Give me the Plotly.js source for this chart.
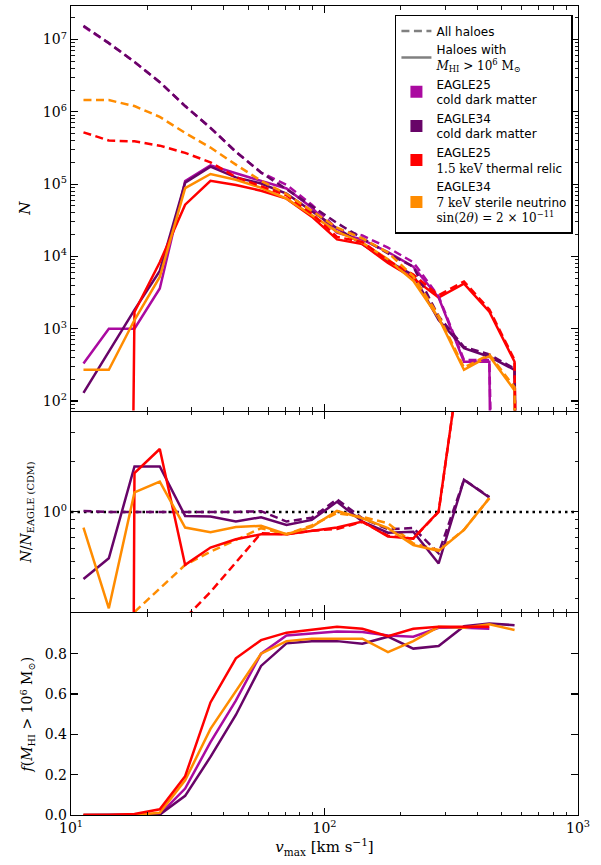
<!DOCTYPE html>
<html><head><meta charset="utf-8">
<script src="https://cdn.plot.ly/plotly-3.0.1.min.js"></script>
<style>html,body{margin:0;padding:0;background:#fff}</style>
</head><body><div id="chart" style="width:601px;height:865px"></div>
<script>
// bin centres of v_max [km/s]
const vmax = [11.2, 14.1, 17.8, 22.4, 28.2, 35.5, 44.7, 56.2, 70.8, 89.1, 112, 141, 178, 224, 282, 355, 447, 562, 708];

// Top panel: number of haloes, all haloes (dashed)
const allCDM25 = [1.51e7, 8.9e6, 4.9e6, 2.57e6, 1.2e6, 6.0e5, 2.8e5, 1.44e5, 9.8e4, 5.2e4, 2.4e4, 1.95e4, 1.32e4, 8.3e3, 2.8e3, 370, 370, 0, 0];
const allCDM34 = [1.55e7, 8.9e6, 4.9e6, 2.57e6, 1.2e6, 6.0e5, 2.8e5, 1.45e5, 8.5e4, 4.9e4, 2.9e4, 1.78e4, 1.1e4, 7.2e3, 1.48e3, 560, 440, 280, 0];
const allTR25  = [5.2e5, 4.0e5, 3.9e5, 3.4e5, 2.7e5, 2.0e5, 1.25e5, 9.3e4, 7.0e4, 3.9e4, 1.86e4, 1.58e4, 8.8e3, 5.6e3, 2.9e3, 4.5e3, 1.84e3, 370, 0];
const allSN34  = [1.46e6, 1.45e6, 1.2e6, 8.5e5, 5.1e5, 3.2e5, 1.86e5, 1.11e5, 7.3e4, 4.25e4, 2.5e4, 1.77e4, 1.13e4, 5.3e3, 1.51e3, 290, 440, 155, 0];
// haloes with M_HI > 1e6 Msun (solid)
const hiCDM25 = [330, 1000, 1000, 3600, 1.1e5, 1.82e5, 1.41e5, 1.1e5, 8.7e4, 4.7e4, 2.14e4, 1.7e4, 1.15e4, 7.2e3, 2.7e3, 350, 350, 0, 0];
const hiCDM34 = [130, 480, 1820, 6300, 1.05e5, 1.74e5, 1.24e5, 1.02e5, 7.4e4, 4.2e4, 2.45e4, 1.48e4, 8.6e3, 5.5e3, 1.32e3, 540, 410, 270, 0];
const hiTR25  = [0, 0, 1700, 8300, 5.2e4, 1.11e5, 9.7e4, 8.1e4, 6.3e4, 3.55e4, 1.72e4, 1.48e4, 8.1e3, 5.0e3, 2.7e3, 4.2e3, 1.72e3, 350, 0];
const hiSN34  = [270, 270, 1320, 5200, 8.8e4, 1.38e5, 1.15e5, 8.9e4, 6.3e4, 3.7e4, 2.2e4, 1.55e4, 9.1e3, 4.6e3, 1.41e3, 270, 420, 140, 0];

// Middle panel: ratio to EAGLE25 CDM (null where undefined)
const ratioAllCDM34 = [1.014, 1.0, 1.0, 1.0, 0.995, 1.0, 1.0, 1.01, 0.875, 0.923, 1.19, 0.916, 0.787, 0.80, 0.564, 1.56, 1.23, null, null];
const ratioAllTR25  = [0.034, 0.045, 0.083, 0.137, 0.23, 0.33, 0.5, 0.745, 0.734, 0.77, 0.79, 0.87, 0.72, 0.69, 1.0, 12.0, 4.95, null, null];
const ratioAllSN34  = [0.094, 0.163, 0.25, 0.345, 0.48, 0.576, 0.678, 0.798, 0.734, 0.83, 0.982, 0.933, 0.855, 0.646, 0.59, 0.78, 1.21, null, null];
const ratioHiCDM34  = [0.395, 0.526, 1.875, 1.875, 0.946, 0.937, 0.875, 0.929, 0.835, 0.895, 1.15, 0.875, 0.75, 0.76, 0.49, 1.56, 1.22, null, null];
const ratioHiTR25   = [0, 0, 1.71, 2.39, 0.48, 0.61, 0.684, 0.734, 0.734, 0.769, 0.805, 0.875, 0.71, 0.693, 1.005, 12.0, 4.95, null, null];
const ratioHiSN34   = [0.805, 0.263, 1.31, 1.52, 0.805, 0.755, 0.811, 0.824, 0.734, 0.813, 1.014, 0.916, 0.798, 0.632, 0.582, 0.78, 1.21, null, null];

// Bottom panel: HI fraction
const fCDM25 = [0, 0, 0, 0.003, 0.131, 0.361, 0.567, 0.8, 0.89, 0.9, 0.91, 0.907, 0.89, 0.884, 0.928, 0.928, 0.923, null, null];
const fCDM34 = [0, 0, 0, 0.002, 0.095, 0.288, 0.496, 0.739, 0.851, 0.862, 0.862, 0.849, 0.884, 0.825, 0.838, 0.936, 0.95, 0.941, null];
const fTR25  = [0, 0, 0.005, 0.028, 0.192, 0.558, 0.777, 0.867, 0.904, 0.917, 0.933, 0.923, 0.887, 0.923, 0.933, 0.933, 0.933, null, null];
const fSN34  = [0, 0, 0, 0.011, 0.172, 0.427, 0.616, 0.8, 0.862, 0.874, 0.874, 0.874, 0.808, 0.862, 0.933, 0.928, 0.945, 0.917, null];

const modelNames = ['EAGLE25<br>cold dark matter', 'EAGLE34<br>cold dark matter',
  'EAGLE25<br><span style="font-family:DejaVu Serif">1.5 keV</span> thermal relic',
  'EAGLE34<br><span style="font-family:DejaVu Serif">7 keV</span> sterile neutrino<br><span style="font-family:DejaVu Serif">sin(2<i>θ</i>) = 2 × 10<sup>−11</sup></span>'];
const colors = ['#aa0aa0', '#680468', '#ff0000', '#ff8c00'];

const SER = 'DejaVu Serif';
const SANS = 'DejaVu Sans';
const DASH = '8px,4.5px';
const LW = 2.5;
// zero counts on a log axis are clipped far below the panel (like matplotlib)
const clip = arr => arr.map(v => (v === null ? null : (v > 0 ? v : 1e-30)));

function ln(y, color, dash, xa, ya) {
  return {type: 'scatter', mode: 'lines', x: vmax, y: y, xaxis: xa, yaxis: ya,
    showlegend: false, hoverinfo: 'skip', line: {color: color, width: LW, dash: dash}};
}

const traces = [];
// top panel
const allSets = [allCDM25, allCDM34, allTR25, allSN34];
const hiSets = [hiCDM25, hiCDM34, hiTR25, hiSN34];
[0,1,2,3].forEach(i => traces.push(ln(clip(hiSets[i]), colors[i], 'solid', 'x', 'y')));
[0,1,2,3].forEach(i => traces.push(ln(clip(allSets[i]), colors[i], DASH, 'x', 'y')));
// middle panel
const rAll = [null, ratioAllCDM34, ratioAllTR25, ratioAllSN34];
const rHi = [null, ratioHiCDM34, ratioHiTR25, ratioHiSN34];
[1,2,3].forEach(i => traces.push(ln(clip(rAll[i]), colors[i], DASH, 'x2', 'y2')));
[1,2,3].forEach(i => traces.push(ln(clip(rHi[i]), colors[i], 'solid', 'x2', 'y2')));
// bottom panel
const fSets = [fCDM25, fCDM34, fSN34, fTR25];
const fCols = [colors[0], colors[1], colors[3], colors[2]];
fSets.forEach((f, i) => traces.push(ln(f, fCols[i], 'solid', 'x3', 'y3')));

// legend-only entries (a single undefined point so nothing is drawn)
const noPt = {x: [vmax[0]], y: [null], xaxis: 'x', yaxis: 'y', hoverinfo: 'skip', showlegend: true};
traces.push(Object.assign({type: 'scatter', mode: 'lines', name: 'All haloes',
  line: {color: '#808080', width: 2.5, dash: DASH}, legendrank: 1}, noPt));
traces.push(Object.assign({type: 'scatter', mode: 'lines',
  name: 'Haloes with<br><span style="font-family:DejaVu Serif"><i>M</i><sub>HI</sub> &gt; 10<sup>6</sup> M<sub>⊙</sub></span>',
  line: {color: '#808080', width: 2.5}, legendrank: 2}, noPt));
modelNames.forEach((n, i) => traces.push(Object.assign({type: 'scatter', mode: 'markers', name: n,
  marker: {symbol: 'square', size: 12, color: colors[i]}, legendrank: 3 + i}, noPt)));

// tick positions
const decadeMinor = (lo, hi) => { const out = []; for (let e = lo; e <= hi; e++) for (let m = 2; m <= 9; m++) out.push(m * Math.pow(10, e)); return out; };
const axBase = {showline: true, linecolor: '#000', linewidth: 1.3, mirror: 'allticks', ticks: 'inside',
  ticklen: 7, tickwidth: 1.1, tickcolor: '#000', showgrid: false, zeroline: false, tickmode: 'array',
  tickfont: {family: SER, size: 14, color: '#000'}};
const minorBase = {tickmode: 'array', ticks: 'inside', ticklen: 3.5, tickwidth: 0.9, tickcolor: '#000', showgrid: false};
const xCommon = Object.assign({}, axBase, {type: 'log', range: [1, 3],
  tickvals: [10, 100, 1000], ticktext: ['10<sup>1</sup>', '10<sup>2</sup>', '10<sup>3</sup>'],
  minor: Object.assign({}, minorBase, {tickvals: decadeMinor(1, 2)})});

const H = 809;
const hTop = 404.5 / H, hMid = 201.5 / H, gap = 1.3 / H;
const layout = {
  width: 601, height: 865, paper_bgcolor: '#fff', plot_bgcolor: '#fff',
  margin: {l: 71, r: 23, t: 6, b: 50},
  font: {family: SER, size: 14, color: '#000'},
  xaxis: Object.assign({}, xCommon, {anchor: 'y', showticklabels: false, matches: 'x3'}),
  xaxis2: Object.assign({}, xCommon, {anchor: 'y2', showticklabels: false, matches: 'x3'}),
  xaxis3: Object.assign({}, xCommon, {anchor: 'y3',
    title: {text: '<i>v</i><sub>max</sub> [km s<sup>−1</sup>]', font: {family: SER, size: 15}, standoff: 6}}),
  yaxis: Object.assign({}, axBase, {type: 'log', domain: [1 - hTop, 1], range: [1.869, 7.463],
    tickvals: [1e2, 1e3, 1e4, 1e5, 1e6, 1e7],
    ticktext: ['10<sup>2</sup>', '10<sup>3</sup>', '10<sup>4</sup>', '10<sup>5</sup>', '10<sup>6</sup>', '10<sup>7</sup>'],
    minor: Object.assign({}, minorBase, {tickvals: decadeMinor(1, 7)}),
    title: {text: '<i>N</i>', font: {family: SER, size: 15}, standoff: 8}}),
  yaxis2: Object.assign({}, axBase, {type: 'log', domain: [1 - hTop - hMid, 1 - hTop - gap],
    range: [Math.log10(0.25), Math.log10(4)],
    tickvals: [1], ticktext: ['10<sup>0</sup>'],
    minor: Object.assign({}, minorBase, {tickvals: [0.3, 0.4, 0.5, 0.6, 0.7, 0.8, 0.9, 2, 3]}),
    title: {text: '<i>N</i>/<i>N</i><sub>EAGLE (CDM)</sub>', font: {family: SER, size: 14}, standoff: 8}}),
  yaxis3: Object.assign({}, axBase, {type: 'linear', domain: [0, 1 - hTop - hMid - gap], range: [0, 1],
    tickvals: [0, 0.2, 0.4, 0.6, 0.8], ticktext: ['0.0', '0.2', '0.4', '0.6', '0.8'],
    title: {text: '<i>f</i>(<i>M</i><sub>HI</sub> &gt; 10<sup>6</sup> M<sub>⊙</sub>)', font: {family: SER, size: 14}, standoff: 8}}),
  shapes: [{type: 'line', xref: 'x2 domain', yref: 'y2 domain', x0: 0, x1: 1, y0: 0.5, y1: 0.5,
    line: {color: '#000', width: 2.5, dash: '2.5px,4px'}, layer: 'below'}],
  legend: {x: 0.99, y: 0.989, xanchor: 'right', yanchor: 'top', bgcolor: '#fff',
    bordercolor: '#000', borderwidth: 1.5, font: {family: SANS, size: 12, color: '#000'},
    itemwidth: 30, tracegroupgap: 0, traceorder: 'normal'},
  showlegend: true
};

Plotly.newPlot('chart', traces, layout, {staticPlot: true, displayModeBar: false});
</script></body></html>
